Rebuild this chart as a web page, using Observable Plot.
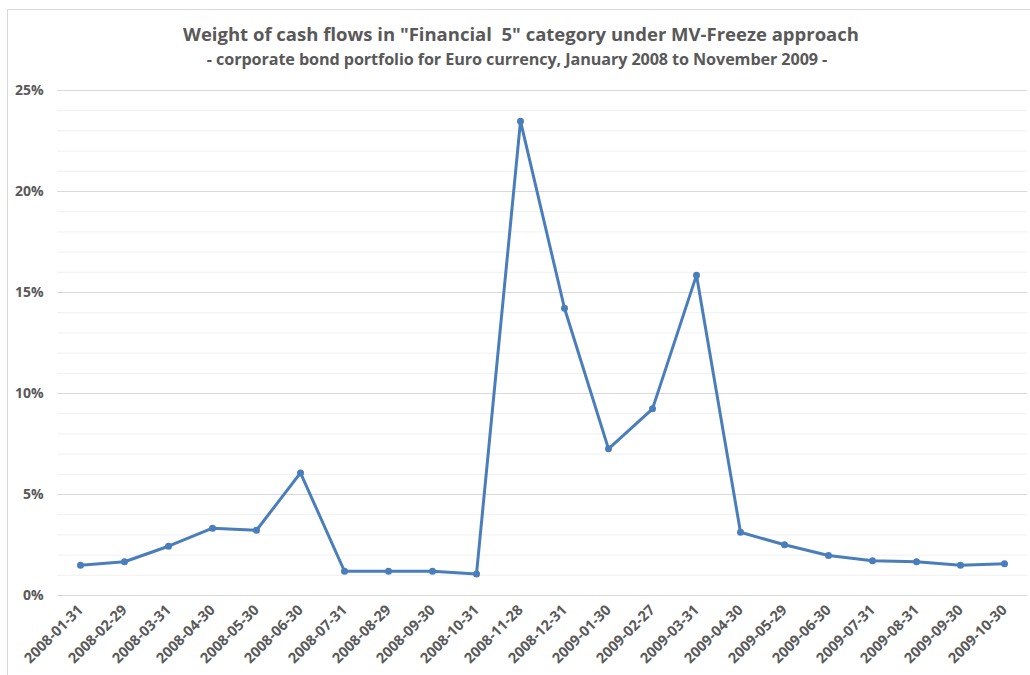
<!DOCTYPE html>
<html>
<head>
<meta charset="utf-8">
<script src="https://cdn.jsdelivr.net/npm/d3@7"></script>
<script src="https://cdn.jsdelivr.net/npm/@observablehq/plot@0.6"></script>
<style>
  html, body { margin: 0; padding: 0; background: #fff; }
  body { width: 1030px; height: 675px; position: relative; overflow: hidden; font-family: "Open Sans", "Noto Sans", sans-serif; }
  #box { position: absolute; left: 7px; top: 9px; width: 1030px; height: 700px; border: 1px solid #d9d9d9; box-sizing: border-box; }
  #title { position: absolute; left: 121px; width: 800px; top: 21px; text-align: center; font-size: 18.5px; font-weight: 700; color: #595959; white-space: nowrap; }
  #subtitle { position: absolute; left: 117px; width: 800px; top: 48px; text-align: center; font-size: 16.2px; font-weight: 700; color: #595959; white-space: nowrap; letter-spacing: -0.1px; }
  #chart { position: absolute; left: 0; top: 70px; }
</style>
</head>
<body>
<div id="box"></div>
<div id="title">Weight of cash flows in "Financial&nbsp; 5" category under MV-Freeze approach</div>
<div id="subtitle">- corporate bond portfolio for Euro currency, January 2008 to November 2009 -</div>
<div id="chart"></div>
<script>
const dates = ["2008-01-31","2008-02-29","2008-03-31","2008-04-30","2008-05-30","2008-06-30","2008-07-31","2008-08-29","2008-09-30","2008-10-31","2008-11-28","2008-12-31","2009-01-30","2009-02-27","2009-03-31","2009-04-30","2009-05-29","2009-06-30","2009-07-31","2009-08-31","2009-09-30","2009-10-30"];
const weights = [0.0150,0.0167,0.0244,0.0333,0.0323,0.0607,0.0120,0.0120,0.0120,0.0107,0.2348,0.1422,0.0726,0.0924,0.1586,0.0313,0.0251,0.0198,0.0172,0.0167,0.0150,0.0157];
const majorTicks = [0, 0.05, 0.10, 0.15, 0.20, 0.25];
const minorTicks = d3.range(0, 26).map(d => d / 100).filter(d => Math.round(d * 100) % 5 !== 0);

const data = dates.map((d, i) => ({date: d, value: weights[i]}));
const lineColor = "#4a7ebb";

const plot = Plot.plot({
  width: 1030,
  height: 605,
  marginLeft: 57,
  marginRight: 3,
  marginTop: 20,
  marginBottom: 80,
  style: {fontFamily: "'Open Sans', 'Noto Sans', sans-serif", fontWeight: 700, fontSize: "13.5px", color: "#595959", background: "transparent"},
  x: {type: "point", domain: dates, range: [79, 1005], padding: 0},
  y: {domain: [0, 0.25], range: [525, 20]},
  marks: [
    Plot.ruleY(minorTicks, {stroke: "#f0f0f0", strokeWidth: 1}),
    Plot.ruleY(majorTicks, {stroke: "#d9d9d9", strokeWidth: 1}),
    Plot.axisY({ticks: majorTicks, tickFormat: d => Math.round(d * 100) + "%", tickSize: 0, tickPadding: 14, label: null, fill: "#595959", fontSize: 14}),
    Plot.axisX({tickSize: 0, tickRotate: -45, tickPadding: 12, label: null, fill: "#595959", fontSize: 14.5}),
    Plot.line(data, {x: "date", y: "value", stroke: lineColor, strokeWidth: 3}),
    Plot.dot(data, {x: "date", y: "value", fill: lineColor, r: 3.5})
  ]
});
document.getElementById("chart").appendChild(plot);
</script>
</body>
</html>
